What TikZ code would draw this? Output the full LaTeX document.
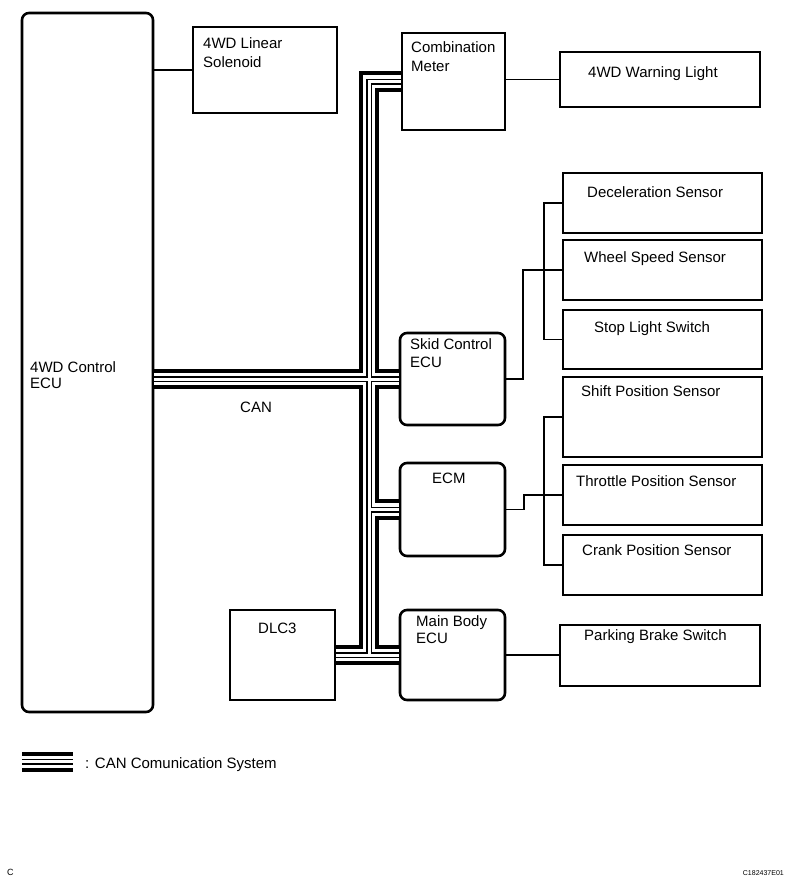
\documentclass[tikz,border=0pt]{standalone}
\usepackage{fontspec}
\setmainfont{Liberation Sans}
\usetikzlibrary{calc}
\begin{document}
\begin{tikzpicture}[x=1pt,y=-1pt,
  box/.style={draw, line width=2.6pt, inner sep=0pt},
  rbox/.style={box, rounded corners=7pt},
  lbl/.style={anchor=base west, inner sep=0pt, font=\fontsize{15}{18}\selectfont},
  wire/.style={line width=1.4pt},
]
\useasboundingbox (0,0) rectangle (792,886);
% boxes
\node[rbox, minimum width=131, minimum height=699] (ecu) at (87.5,362.5) {};
\node[box, minimum width=144, minimum height=86] (sol) at (265,70) {};
\node[box, minimum width=103, minimum height=97] (meter) at (453.5,81.5) {};
\node[box, minimum width=200, minimum height=55] (warn) at (660,79.5) {};
\node[box, minimum width=199, minimum height=60] (dec) at (662.5,203) {};
\node[box, minimum width=199, minimum height=60] (wheel) at (662.5,270) {};
\node[box, minimum width=199, minimum height=59] (stop) at (662.5,339.5) {};
\node[rbox, minimum width=105, minimum height=92] (skid) at (452.5,379) {};
\node[box, minimum width=199, minimum height=80] (shift) at (662.5,417) {};
\node[box, minimum width=199, minimum height=60] (thr) at (662.5,495) {};
\node[box, minimum width=199, minimum height=60] (crank) at (662.5,565) {};
\node[rbox, minimum width=105, minimum height=93] (ecm) at (452.5,509.5) {};
\node[box, minimum width=105, minimum height=90] (dlc) at (282.5,655) {};
\node[rbox, minimum width=105, minimum height=90] (mainb) at (452.5,655) {};
\node[box, minimum width=200, minimum height=61] (park) at (660,655.5) {};
% texts
\node[lbl] (t1) at (30,372) {4WD Control};
\node[lbl] (t2) at (30,388) {ECU};
\node[lbl] (t3) at (203,48) {4WD Linear};
\node[lbl] (t4) at (203,67) {Solenoid};
\node[lbl] (t5) at (411,52) {Combination};
\node[lbl] (t6) at (411,71) {Meter};
\node[lbl] (t7) at (588,77) {4WD Warning Light};
\node[lbl] (t8) at (587,197) {Deceleration Sensor};
\node[lbl] (t9) at (584,262) {Wheel Speed Sensor};
\node[lbl] (t10) at (594,332) {Stop Light Switch};
\node[lbl] (t11) at (410,349) {Skid Control};
\node[lbl] (t12) at (410,367) {ECU};
\node[lbl] (t13) at (581,396) {Shift Position Sensor};
\node[lbl] (t14) at (576,486) {Throttle Position Sensor};
\node[lbl] (t15) at (582,555) {Crank Position Sensor};
\node[lbl] (t16) at (432,483) {ECM};
\node[lbl] (t17) at (258,633) {DLC3};
\node[lbl] (t18) at (416,626) {Main Body};
\node[lbl] (t19) at (416,643) {ECU};
\node[lbl] (t20) at (584,640) {Parking Brake Switch};
\node[lbl] (t21) at (240,412) {CAN};
\node[lbl] (t22) at (85,768.5) {: CAN Comunication System};
\node[anchor=base west, inner sep=0pt, font=\fontsize{9}{10}\selectfont] (t23) at (7,875) {C};
\node[anchor=base east, inner sep=0pt, font=\fontsize{7}{8}\selectfont] (t24) at (784,875) {C182437E01};
% plain connectors
\coordinate (skx) at (523,0);
\coordinate (ekx) at (524,0);
\coordinate (brx) at (544,0);
\draw[wire] (ecu.east |- sol.west) -- (sol.west);
\draw[wire] (meter.east |- warn.west) -- (warn.west);
\draw[wire] (skid.east) -- (skid.east -| skx) |- (wheel.west);
\draw[wire] (dec.west) -| (brx |- stop.west) -- (stop.west);
\draw[wire] (ecm.east) -- (ecm.east -| ekx) |- (thr.west);
\draw[wire] (shift.west) -| (brx |- crank.west) -- (crank.west);
\draw[wire] (mainb.east) -- (mainb.east -| park.west);
% CAN bus
\coordinate (tx) at (369,0);
\coordinate (lg1) at (22,761.75);
\coordinate (lg2) at (73,761.75);
\foreach \lw/\lc in {20.5/black,12.5/white,6/black,3/white}{
  \draw[line width=\lw pt, draw=\lc] (meter.west) -- (meter.west -| tx) -- (tx |- mainb.west);
  \draw[line width=\lw pt, draw=\lc] (dlc.east) -- (mainb.west);
  \draw[line width=\lw pt, draw=\lc] (ecu.east |- skid.west) -- (skid.west);
  \draw[line width=\lw pt, draw=\lc] (tx |- ecm.west) -- (ecm.west);
  \draw[line width=\lw pt, draw=\lc] (lg1) -- (lg2);
}
\end{tikzpicture}
\end{document}
